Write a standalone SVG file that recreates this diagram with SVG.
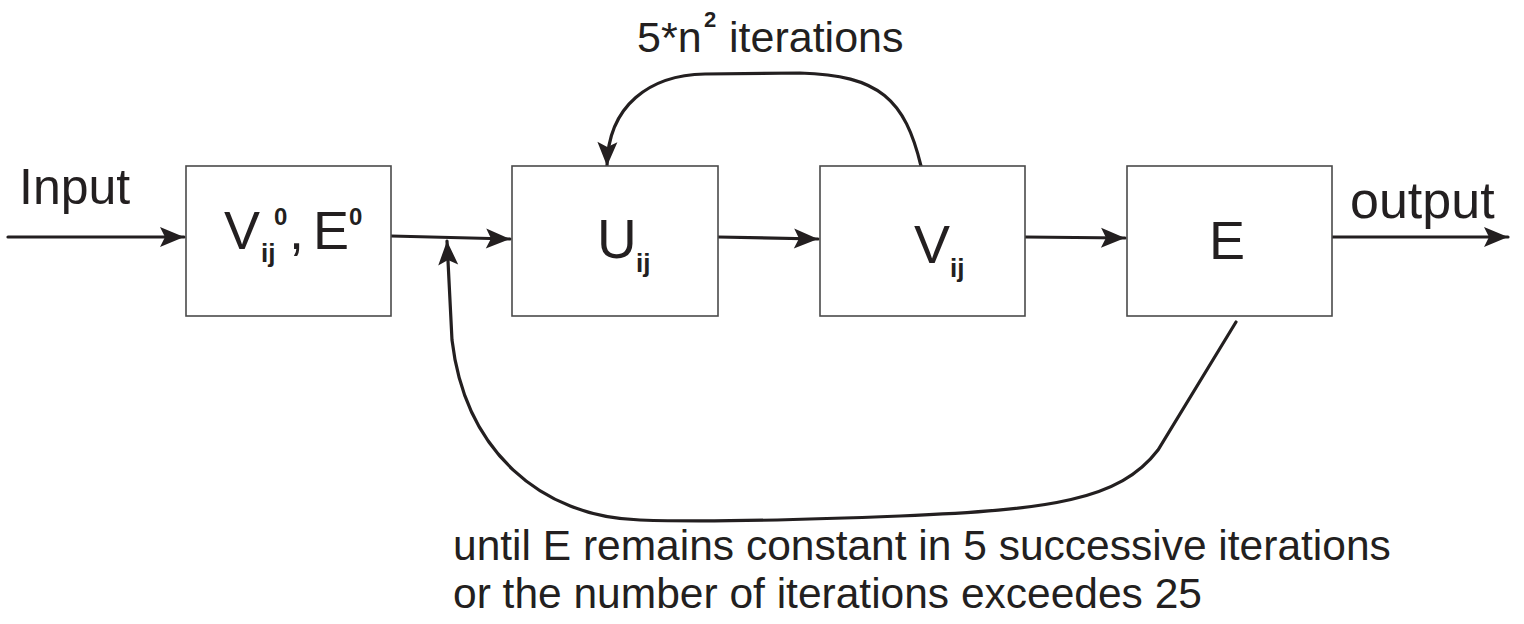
<svg xmlns="http://www.w3.org/2000/svg" width="1524" height="624" viewBox="0 0 1524 624">
<style>
.box{fill:#fff;stroke:#4a4a4a;stroke-width:1.6}
.t{font-family:"Liberation Sans",Arial,sans-serif;fill:#231f20}
.b{font-weight:bold}
.c{fill:none;stroke:#231f20;stroke-width:3.2;stroke-linecap:round}
</style>
<defs>
<marker id="ah" markerUnits="userSpaceOnUse" markerWidth="30" markerHeight="24" refX="24" refY="10" orient="auto" overflow="visible">
<path d="M0,0 L24,10 L0,20 L5,10 z" fill="#231f20"/>
</marker>
</defs>
<rect width="1524" height="624" fill="#fff"/>
<g id="connectors">
<path class="c" d="M8,237 L184,237" marker-end="url(#ah)"/>
<path class="c" d="M391,236 L510,239" marker-end="url(#ah)"/>
<path class="c" d="M718,237 L818,239" marker-end="url(#ah)"/>
<path class="c" d="M1025,237 L1125,238" marker-end="url(#ah)"/>
<path class="c" d="M1332,237 L1508,237" marker-end="url(#ah)"/>
<path class="c" d="M921,166 C905,100 880,75 800,73 L705,74 C650,75 608,105 607,166" marker-end="url(#ah)"/>
<path class="c" d="M1236,322 L1158,450 C1120,500 1050,510 900,516 C800,520 700,522 640,520 C540,517 465,450 452,340 L447,241" marker-end="url(#ah)"/>
</g>
<g id="init">
<rect class="box" x="186" y="166" width="205" height="150"/>
<text class="t" font-size="54"><tspan x="224" y="249">V</tspan><tspan class="b" font-size="26" x="261" y="262">ij</tspan><tspan class="b" font-size="24" x="274" y="225">0</tspan><tspan x="289" y="249">,</tspan><tspan x="313" y="249">E</tspan><tspan class="b" font-size="24" x="349" y="225">0</tspan></text>
</g>
<g id="U">
<rect class="box" x="512" y="166" width="206" height="150"/>
<text class="t" font-size="55"><tspan x="597" y="258">U</tspan><tspan class="b" font-size="26" x="636" y="272">ij</tspan></text>
</g>
<g id="V">
<rect class="box" x="820" y="166" width="205" height="150"/>
<text class="t" font-size="54"><tspan x="914" y="263">V</tspan><tspan class="b" font-size="26" x="950" y="277">ij</tspan></text>
</g>
<g id="E">
<rect class="box" x="1127" y="166" width="205" height="150"/>
<text class="t" font-size="54" x="1209" y="259">E</text>
</g>
<g id="labels">
<text class="t" font-size="50" x="19" y="204">Input</text>
<text class="t" font-size="52" x="1350" y="218">output</text>
<text class="t" font-size="43"><tspan x="637" y="52">5*n</tspan><tspan class="b" font-size="22" x="704" y="27">2</tspan><tspan x="729" y="52">iterations</tspan></text>
<text class="t" font-size="42.5"><tspan x="453" y="560">until E remains constant in 5 successive iterations</tspan><tspan x="453" y="608">or the number of iterations exceedes 25</tspan></text>
</g>
</svg>
